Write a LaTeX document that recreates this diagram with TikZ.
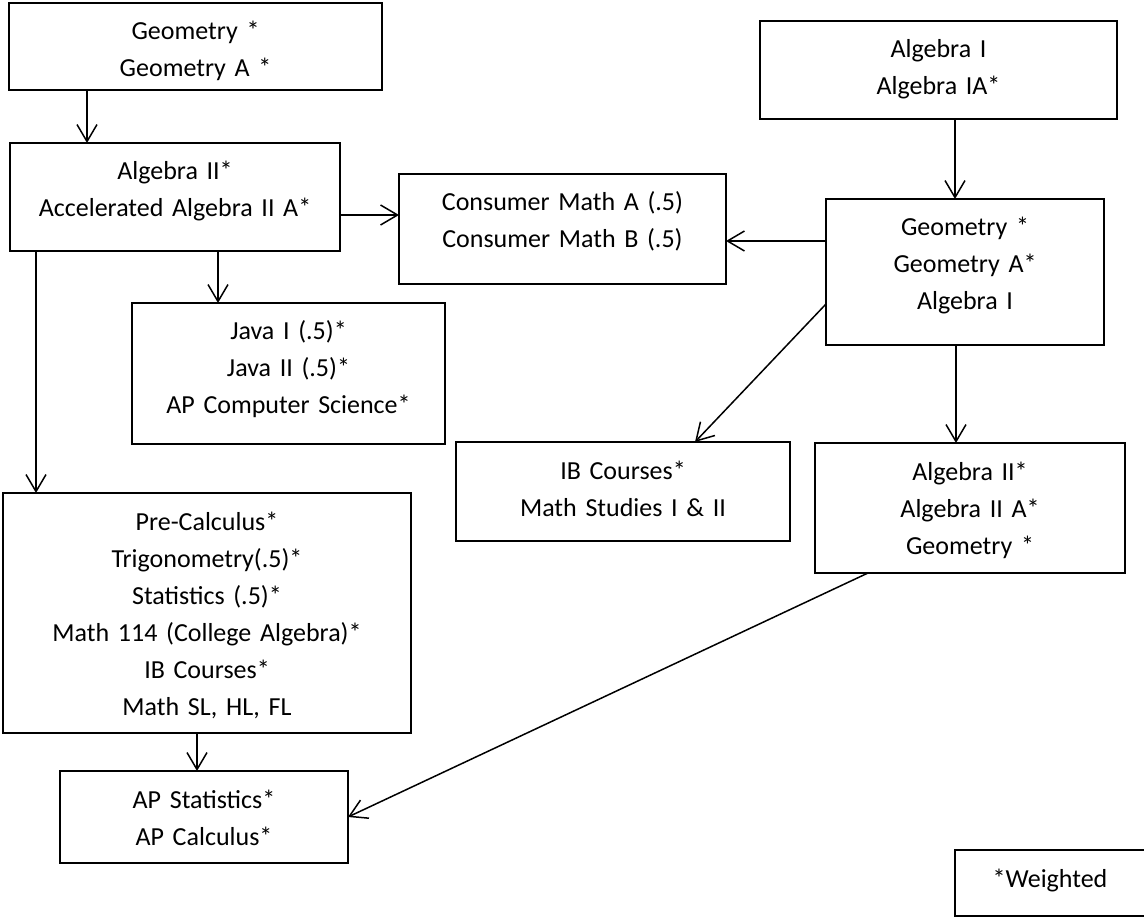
\documentclass[tikz,border=0pt]{standalone}
\usepackage{fontspec}
\setmainfont{Carlito}
\usetikzlibrary{arrows.meta}

\begin{document}
\begin{tikzpicture}[
	x=1pt, y=-1pt,
	course/.style 2 args = {
		draw, rectangle, anchor=north west, align=center,
		text width=#1, text height=37pt, text depth=#2,
		font=\fontsize{26}{37}\selectfont, line width=1.8pt,
		inner sep=0pt, outer sep=0pt},
	thinbox/.style = {line width=1.1pt},
	arrow/.style = {line width=1.5pt,-{Straight Barb[length=17pt,width=20pt]}}
]
\useasboundingbox (0,0) rectangle (1144,917);

\node (geoA)     [course={373pt}{50pt}]  at (9,3)     {Geometry *\\Geometry A *};
\node (algIIa)   [course={330pt}{71pt}]  at (10,143)  {Algebra II*\\Accelerated Algebra II A*};
\node (consumer) [course={327pt}{73pt}]  at (399,174) {Consumer Math A (.5)\\Consumer Math B (.5)};
\node (algIb)    [course={357pt}{61pt}]  at (760,21)  {Algebra I\\Algebra IA*};
\node (geoB)     [course={278pt}{109pt}] at (826,199) {Geometry *\\Geometry A*\\Algebra I};
\node (java)     [course={313pt}{104pt}] at (132,303) {Java I (.5)*\\Java II (.5)*\\
                                                       AP Computer Science*};
\node (ibStudies) [course={334pt}{62pt},thinbox] at (456,442)
                                                      {IB Courses*\\Math Studies I \& II};
\node (algIIb)   [course={310pt}{93pt}]  at (815,443) {Algebra II*\\Algebra II A*\\Geometry *};
\node (precalc)  [course={408pt}{203pt}] at (3,493)   {Pre-Calculus*\\Trigonometry(.5)*\\
                                                       Statistics (.5)*\\
                                                       Math 114 (College Algebra)*\\
                                                       IB Courses*\\Math SL, HL, FL};
\node (apCourses) [course={288pt}{55pt}] at (60,771)  {AP Statistics*\\AP Calculus*};
\node (weighted) [course={190pt}{29pt},thinbox] at (955,850) {*Weighted};

\draw[arrow] ([xshift=78pt] geoA.south west) coordinate (a)
                                       -- (a |- algIIa.north);
\draw[arrow] ([yshift=-72pt] algIIa.north east) coordinate (b)
                                       -- (b -| consumer.west);
\draw[arrow] ([xshift=208pt] algIIa.south west) coordinate (c)
                                       -- (c |- java.north);
\draw[arrow] ([xshift=26pt] algIIa.south west) coordinate (d)
                                       -- (d |- precalc.north);
\draw[arrow] ([xshift=195pt] algIb.south west) coordinate (e)
                                       -- (e |- geoB.north);
\draw[arrow] ([yshift=-42pt] geoB.north west) coordinate (f)
                                       -- (f -| consumer.east);
\draw[arrow] ([yshift=41pt] geoB.south west) -- ([xshift=239pt] ibStudies.north west);
\draw[arrow] ([xshift=130pt] geoB.south west) coordinate (g)
                                       -- (g |- algIIb.north);
\draw[arrow] ([xshift=194pt] precalc.south west) coordinate (h)
                                       -- (h |- apCourses.north);
\draw[arrow] ([xshift=53pt] algIIb.south west) -- (apCourses.east);
\end{tikzpicture}
\end{document}
